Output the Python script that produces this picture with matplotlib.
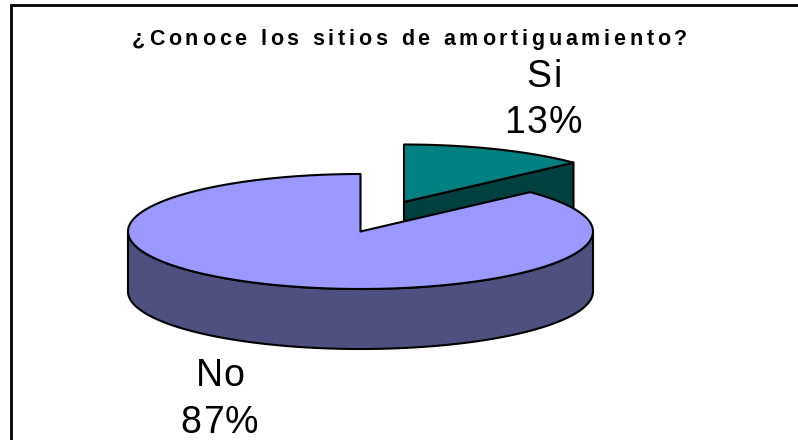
import numpy as np
import matplotlib
matplotlib.use("Agg")
import matplotlib.pyplot as plt
from matplotlib.patches import Polygon
from matplotlib.text import Text
from matplotlib.transforms import Bbox, IdentityTransform

categories = ["Si", "No"]
values = [13, 87]
title = "¿Conoce los sitios de amortiguamiento?"

TOP_NO, SIDE_NO = "#9999FF", "#4F4F80"
TOP_SI, SIDE_SI = "#008080", "#004040"
RX, RY, DEPTH = 232.5, 57.5, 60
NO_C = (360.5, 231.5)
SI_C = (404, 202)
LW = 1.5


class TrackedText(Text):
    """One text artist drawn centred with extra letter spacing (px)."""
    tracking = 0.0

    def _layout_chars(self, renderer):
        s = self.get_text()
        fp = self.get_fontproperties()
        widths = [renderer.get_text_width_height_descent(s[:i + 1], fp, False)[0]
                  for i in range(len(s))]
        total = widths[-1] + self.tracking * (len(s) - 1)
        x0, y0 = self.get_transform().transform(self.get_position())
        left = x0 - total / 2
        return s, fp, widths, total, left, y0

    def get_window_extent(self, renderer=None, dpi=None):
        if renderer is None:
            renderer = self.get_figure().canvas.get_renderer()
        s, fp, widths, total, left, y0 = self._layout_chars(renderer)
        _, h, d = renderer.get_text_width_height_descent(s, fp, False)
        return Bbox([[left, y0 - d], [left + total, y0 - d + h]])

    def draw(self, renderer):
        s, fp, widths, total, left, y0 = self._layout_chars(renderer)
        prev = 0.0
        for i, ch in enumerate(s):
            t = Text(0, 0, ch, fontproperties=fp, color=self.get_color(), va="baseline", ha="left")
            t.set_figure(self.get_figure())
            t.set_transform(IdentityTransform())
            t.set_position((left + prev + i * self.tracking, y0))
            t.draw(renderer)
            prev = widths[i]


def pt(center, frac):
    """Point on the ellipse rim; frac is the clockwise share of the circle from the top."""
    a = 2 * np.pi * np.asarray(frac)
    return np.column_stack([center[0] + RX * np.sin(a), center[1] - RY * np.cos(a)])


fig = plt.figure(figsize=(7.98, 4.40), dpi=100, facecolor="white")
ax = fig.add_axes([0, 0, 1, 1])
ax.set_xlim(0, 798)
ax.set_ylim(440, 0)
ax.axis("off")

si_frac = values[0] / sum(values)
style = dict(edgecolor="black", linewidth=LW, joinstyle="round")

# Exploded "Si" slice: cut face first, then top
cut = pt(SI_C, [si_frac])[0]
face = np.array([SI_C, cut, cut + [0, DEPTH], np.array(SI_C) + [0, DEPTH]])
ax.add_patch(Polygon(face, closed=True, facecolor=SIDE_SI, zorder=1, **style))
rim = pt(SI_C, np.linspace(0, si_frac, 60))
ax.add_patch(Polygon(np.vstack([[SI_C], rim]), closed=True, facecolor=TOP_SI, zorder=2, **style))

# "No" slice: front wall, then top
lo, hi = max(si_frac, 0.25), 0.75
front = pt(NO_C, np.linspace(lo, hi, 200))
wall = np.vstack([front, (front + [0, DEPTH])[::-1]])
ax.add_patch(Polygon(wall, closed=True, facecolor=SIDE_NO, zorder=3, **style))
rim = pt(NO_C, np.linspace(si_frac, 1, 400))
ax.add_patch(Polygon(np.vstack([[NO_C], rim]), closed=True, facecolor=TOP_NO, zorder=4, **style))

# Frame: left and top only
ax.plot([11, 11, 798], [440, 5.5, 5.5], color="black", lw=2.0, solid_joinstyle="miter", zorder=5, clip_on=False)


def label(x, y, s, size, weight="normal", track=0.0):
    t = TrackedText(x, y, s, fontsize=size, fontweight=weight, family="Liberation Sans",
                    color="black", va="baseline")
    t.tracking = track
    ax.add_artist(t)
    t.set_transform(ax.transData)
    return t


label(409.5, 45, title, 15.5, "bold", 3.75)
fs = 27
label(544, 87, categories[0], fs, track=3.0)
label(543, 133, f"{values[0]}%", fs, track=1.5)
label(220, 386, categories[1], fs)
label(219.5, 433, f"{values[1]}%", fs, track=1.5)

fig.savefig("out.png", dpi=100)
